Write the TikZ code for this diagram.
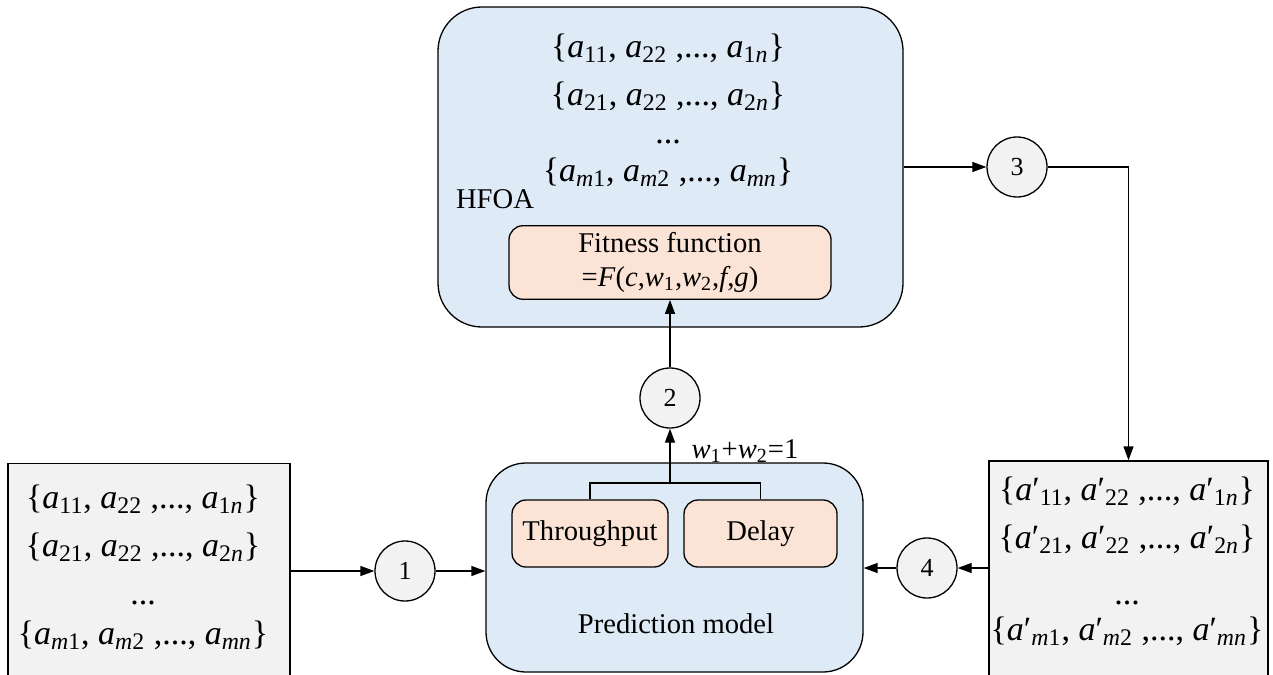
\documentclass[tikz,border=0pt]{standalone}
\usepackage{fontspec}
\setmainfont{Liberation Serif}
\usetikzlibrary{arrows.meta}
\definecolor{boxblue}{HTML}{DEEAF6}
\definecolor{boxorange}{HTML}{FBE4D5}
\definecolor{boxgray}{HTML}{F2F2F2}
\newcommand\av[1]{\textit{a}\textsubscript{#1}}
\newcommand\ap[1]{\textit{a}′\textsubscript{#1}}
\newcommand\iv[1]{\textit{#1}}
\tikzset{
  bigbox/.style={draw, line width=0.65pt, fill=boxblue, rounded corners=22pt},
  smallbox/.style={draw, line width=0.65pt, fill=boxorange, rounded corners=7pt, font=\fontsize{14.3}{17}\selectfont},
  setbox/.style={draw, line width=0.65pt, fill=boxgray},
  settext/.style={align=center, font=\fontsize{17}{24}\selectfont},
  num/.style={draw, circle, line width=0.65pt, fill=boxgray, minimum size=30pt, inner sep=0pt, font=\fontsize{13}{15}\selectfont},
  txt/.style={font=\fontsize{14.3}{17}\selectfont},
  conn/.style={line width=0.65pt, -{Triangle[length=7pt,width=5pt]}}
}
\begin{document}
\begin{tikzpicture}[x=0.5pt, y=-0.5pt]
  \useasboundingbox (0,0) rectangle (1273,674);

  \node[bigbox, minimum width=232.5pt, minimum height=160pt] (hfoa) at (670.5,167) {};
  \node[settext] (topset) at (668,110) {\{\av{11}, \av{22} ,..., \av{1\iv{n}}\}\\
    \{\av{21}, \av{22} ,..., \av{2\iv{n}}\}\\[-5pt]
    ...\\[-5pt]
    \{\av{\iv{m}1}, \av{\iv{m}2} ,..., \av{\iv{mn}}\}};
  \node[txt] (hfoalabel) at (495,199) {HFOA};
  \node[smallbox, minimum width=161pt, minimum height=35.5pt, align=center] (fitness) at (670,262.5)
    {Fitness function\\=\iv{F}(\iv{c},\iv{w}\textsubscript{1},\iv{w}\textsubscript{2},\iv{f},\iv{g})};

  \node[bigbox, rounded corners=20pt, minimum width=188.5pt, minimum height=104.5pt] (pred) at (674.5,567.5) {};
  \node[smallbox, minimum width=78pt, minimum height=33.5pt] (thr) at (590,533.5) {Throughput};
  \node[smallbox, minimum width=76.5pt, minimum height=33.5pt] (del) at (760.5,533.5) {Delay};
  \node[txt] (predlabel) at (676,624) {Prediction model};
  \node[txt] (wlabel) at (745,451) {\iv{w}\textsubscript{1}+\iv{w}\textsubscript{2}=1};

  \node[setbox, minimum width=141pt, minimum height=107pt] (leftset) at (149,570.5) {};
  \node[settext] (lefttext) at (143,567) {\{\av{11}, \av{22} ,..., \av{1\iv{n}}\}\\
    \{\av{21}, \av{22} ,..., \av{2\iv{n}}\}\\
    ...\\[-4pt]
    \{\av{\iv{m}1}, \av{\iv{m}2} ,..., \av{\iv{mn}}\}};

  \node[setbox, minimum width=139.5pt, minimum height=108pt] (rightset) at (1128.5,569) {};
  \node[settext] (righttext) at (1127,561) {\{\ap{11}, \ap{22} ,..., \ap{1\iv{n}}\}\\
    \{\ap{21}, \ap{22} ,..., \ap{2\iv{n}}\}\\[4pt]
    ...\\[-6pt]
    \{\ap{\iv{m}1}, \ap{\iv{m}2} ,..., \ap{\iv{mn}}\}};

  \node[num] (c1) at (405,571) {1};
  \node[num] (c2) at (670,398) {2};
  \node[num] (c3) at (1017,167) {3};
  \node[num] (c4) at (927,568) {4};

  \coordinate (join) at (670,483);
  \draw[line width=0.65pt] (thr.north) |- (join) -| (del.north);
  \draw[conn] (join) -- (c2.south);
  \draw[conn] (c2.north) -- (fitness.south);
  \draw[conn] (leftset.east |- c1) -- (c1.west);
  \draw[conn] (c1.east) -- (c1.east -| pred.west);
  \draw[conn] (hfoa.east |- c3) -- (c3.west);
  \draw[conn] (c3.east) -| (rightset.north);
  \draw[conn] (rightset.west |- c4) -- (c4.east);
  \draw[conn] (c4.west) -- (c4.west -| pred.east);
\end{tikzpicture}
\end{document}
